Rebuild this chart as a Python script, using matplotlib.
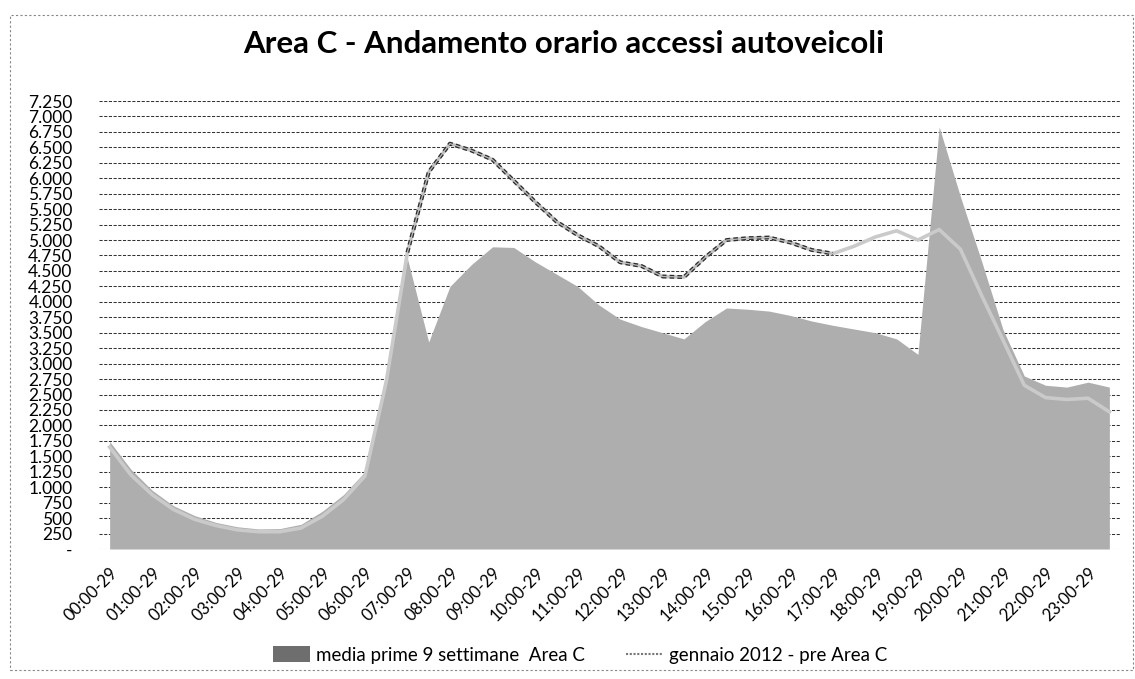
import matplotlib
matplotlib.use("Agg")
import matplotlib.pyplot as plt
from matplotlib.patches import Patch, Rectangle
from matplotlib.lines import Line2D
from matplotlib.ticker import FuncFormatter, MultipleLocator
import numpy as np

plt.rcParams['font.family'] = ['Lato', 'DejaVu Sans']

# half-hour slots 00:00-29, 00:30-59, ... 23:30-59 (48 values)
hour_labels = [f"{h:02d}:00-29" for h in range(24)]

media_prime_9_settimane = [
    1740, 1290, 950, 700, 540, 430, 360, 325, 330, 400,
    610, 880, 1250, 2850, 4700, 3350, 4250, 4600, 4890, 4880,
    4650, 4450, 4250, 3950, 3720, 3600, 3500, 3400, 3680, 3900,
    3880, 3850, 3780, 3690, 3620, 3560, 3500, 3400, 3150, 6830,
    5700, 4650, 3550, 2800, 2650, 2620, 2700, 2620,
]

gennaio_2012 = [
    1650, 1200, 880, 640, 480, 380, 310, 280, 280, 340,
    530, 800, 1180, 2700, 4800, 6100, 6560, 6450, 6300, 5960,
    5620, 5300, 5080, 4900, 4640, 4580, 4410, 4400, 4720, 5000,
    5030, 5040, 4960, 4840, 4780, 4900, 5050, 5150, 5000, 5170,
    4850, 4100, 3380, 2650, 2450, 2420, 2440, 2220,
]

series_names = ["media prime 9 settimane  Area C", "gennaio 2012 - pre Area C"]
title = "Area C - Andamento orario accessi autoveicoli"

W, H = 1135, 679
fig = plt.figure(figsize=(W / 100, H / 100), dpi=100)
ax_l, ax_r, ax_t, ax_b = 99, 1120, 101, 549
ax = fig.add_axes([ax_l / W, (H - ax_b) / H, (ax_r - ax_l) / W, (ax_b - ax_t) / H])

x = np.arange(len(media_prime_9_settimane))

ax.set_ylim(0, 7250)
ax.set_xlim(-0.5, len(x) - 0.5)
ax.yaxis.set_major_locator(MultipleLocator(250))
ax.grid(axis='y', color='#333333', linestyle=(0, (3, 1.5)), linewidth=0.75, zorder=0)
ax.set_axisbelow(True)

area_color = '#aeaeae'
line_color = '#cacaca'
ax.fill_between(x, media_prime_9_settimane, 0, color=area_color, linewidth=0, zorder=2)
ax.plot(x, gennaio_2012, color=line_color, linewidth=2.6, zorder=3, solid_joinstyle='round')
# darker printed stretch of the line (07:30 - 17:00)
seg = slice(14, 35)
ax.plot(x[seg], gennaio_2012[seg], color='#2e2e2e', linewidth=2.8,
        linestyle=(0, (1.2, 0.8)), zorder=4)
ax.plot(x[seg], gennaio_2012[seg], color='#bdbdbd', linewidth=0.9, zorder=5)

for s in ax.spines.values():
    s.set_visible(False)

ax.set_xticks(x[::2])
ax.set_xticklabels(hour_labels, rotation=45, ha='right', rotation_mode='anchor',
                   fontsize=12)
ax.tick_params(axis='x', length=0, pad=11)
ax.tick_params(axis='y', length=0, pad=19, labelsize=12.5)


def fmt(v, pos):
    if abs(v) < 1e-6:
        return "-"
    return f"{int(round(v)):,}".replace(",", ".")


ax.yaxis.set_major_formatter(FuncFormatter(fmt))

fig.text(243 / W, 1 - 44 / H, title, ha='left', va='center', fontsize=22.5,
         fontweight='bold')

handles = [
    Patch(facecolor='#6e6e6e', edgecolor='none'),
    Line2D([0], [0], color='#777777', linewidth=1.5, linestyle=(0, (1, 0.8))),
]
fig.legend(handles, series_names, loc='center', ncol=2,
           bbox_to_anchor=(580 / W, (H - 655) / H), frameon=False, fontsize=13.5,
           handlelength=2.0, handleheight=0.9, columnspacing=2.2, handletextpad=0.3)

# scanned chart border
fig.add_artist(Rectangle((10 / W, 9 / H), (W - 12) / W, (H - 24) / H,
                         transform=fig.transFigure, fill=False,
                         edgecolor='#888888', linewidth=0.8,
                         linestyle=(0, (2, 2))))

fig.savefig("out.png", dpi=100, facecolor='white')
